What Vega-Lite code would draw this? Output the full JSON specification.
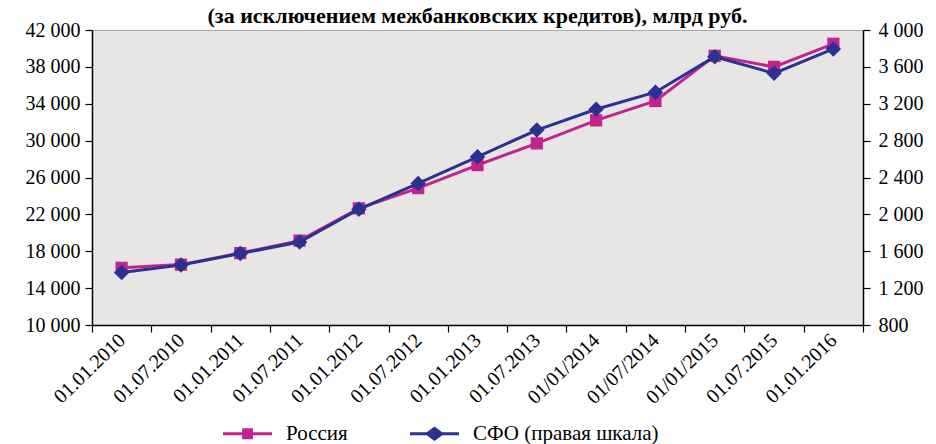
{
  "$schema": "https://vega.github.io/schema/vega-lite/v6.json",
  "width": 771,
  "height": 295,
  "autosize": {"type": "none"},
  "padding": {"left": 92, "top": 30, "right": 73, "bottom": 119},
  "background": "white",
  "title": {
    "text": "(за исключением межбанковских кредитов),  млрд руб.",
    "font": "'Liberation Serif', 'Times New Roman', Times, serif",
    "fontSize": 22,
    "fontWeight": "bold",
    "color": "black",
    "anchor": "middle",
    "frame": "group",
    "baseline": "alphabetic",
    "offset": 4,
    "dy": 29
  },
  "config": {
    "locale": {"number": {"decimal": ",", "thousands": " ", "grouping": [3], "currency": ["", " руб."]}},
    "font": "'Liberation Serif', 'Times New Roman', Times, serif",
    "view": {"fill": "#E8E6E4", "stroke": "#A8A8A8", "strokeWidth": 1},
    "axis": {
      "labelFont": "'Liberation Serif', 'Times New Roman', Times, serif",
      "labelFontSize": 20,
      "labelColor": "black",
      "domainColor": "black",
      "domainWidth": 1.5,
      "tickColor": "black",
      "tickWidth": 1.2,
      "tickSize": 7,
      "grid": false,
      "title": null
    },
    "legend": {
      "labelFont": "'Liberation Serif', 'Times New Roman', Times, serif",
      "labelFontSize": 21,
      "labelColor": "black",
      "labelLimit": 400
    }
  },
  "data": {
    "values": [
      {"date": "01.01.2010", "russia": 16200, "sfo": 1370},
      {"date": "01.07.2010", "russia": 16550, "sfo": 1450},
      {"date": "01.01.2011", "russia": 17800, "sfo": 1575},
      {"date": "01.07.2011", "russia": 19150, "sfo": 1700},
      {"date": "01.01.2012", "russia": 22650, "sfo": 2055},
      {"date": "01.07.2012", "russia": 24850, "sfo": 2335},
      {"date": "01.01.2013", "russia": 27350, "sfo": 2625},
      {"date": "01.07.2013", "russia": 29700, "sfo": 2915},
      {"date": "01/01/2014", "russia": 32200, "sfo": 3140},
      {"date": "01/07/2014", "russia": 34300, "sfo": 3325},
      {"date": "01/01/2015", "russia": 39200, "sfo": 3710},
      {"date": "01.07.2015", "russia": 38000, "sfo": 3530},
      {"date": "01.01.2016", "russia": 40500, "sfo": 3795}
    ]
  },
  "encoding": {
    "x": {
      "field": "date",
      "type": "ordinal",
      "sort": null,
      "scale": {"type": "band", "paddingInner": 0, "paddingOuter": 0},
      "axis": {
        "labelAngle": -44,
        "labelAlign": "right",
        "labelBaseline": "middle",
        "labelPadding": 5,
        "tickBand": "extent",
        "labelFontSize": 20
      }
    },
    "color": {
      "scale": {"domain": ["Россия", "СФО (правая шкала)"], "range": ["#C2238E", "#2B3191"]},
      "legend": {
        "orient": "none",
        "direction": "horizontal",
        "legendX": 131,
        "legendY": 379,
        "title": null,
        "symbolSize": 2401,
        "labelOffset": 14,
        "columnPadding": 62,
        "labelLimit": 400,
        "encode": {
          "symbols": {
            "update": {
              "shape": {"signal": "datum.value === 'Россия' ? 'M-1,-0.06H1V0.06H-1Z M-0.22,-0.22H0.22V0.22H-0.22Z' : 'M-1,-0.06H1V0.06H-1Z M0,-0.3L0.4,0L0,0.3L-0.4,0Z'"},
              "strokeWidth": {"value": 0},
              "opacity": {"value": 1}
            }
          }
        }
      }
    }
  },
  "layer": [
    {
      "encoding": {
        "y": {
          "field": "russia",
          "type": "quantitative",
          "scale": {"domain": [10000, 42000], "nice": false, "zero": false},
          "axis": {"orient": "left", "values": [10000, 14000, 18000, 22000, 26000, 30000, 34000, 38000, 42000], "format": ",d", "labelPadding": 5}
        },
        "color": {"datum": "Россия"}
      },
      "layer": [
        {"mark": {"type": "line", "strokeWidth": 3}},
        {"mark": {"type": "point", "shape": "square", "filled": true, "size": 150, "opacity": 1}}
      ]
    },
    {
      "encoding": {
        "y": {
          "field": "sfo",
          "type": "quantitative",
          "scale": {"domain": [800, 4000], "nice": false, "zero": false},
          "axis": {"orient": "right", "values": [800, 1200, 1600, 2000, 2400, 2800, 3200, 3600, 4000], "format": ",d", "labelPadding": 8}
        },
        "color": {"datum": "СФО (правая шкала)"}
      },
      "layer": [
        {"mark": {"type": "line", "strokeWidth": 3}},
        {"mark": {"type": "point", "shape": "diamond", "filled": true, "size": 240, "opacity": 1}}
      ]
    }
  ],
  "resolve": {"scale": {"y": "independent"}}
}
